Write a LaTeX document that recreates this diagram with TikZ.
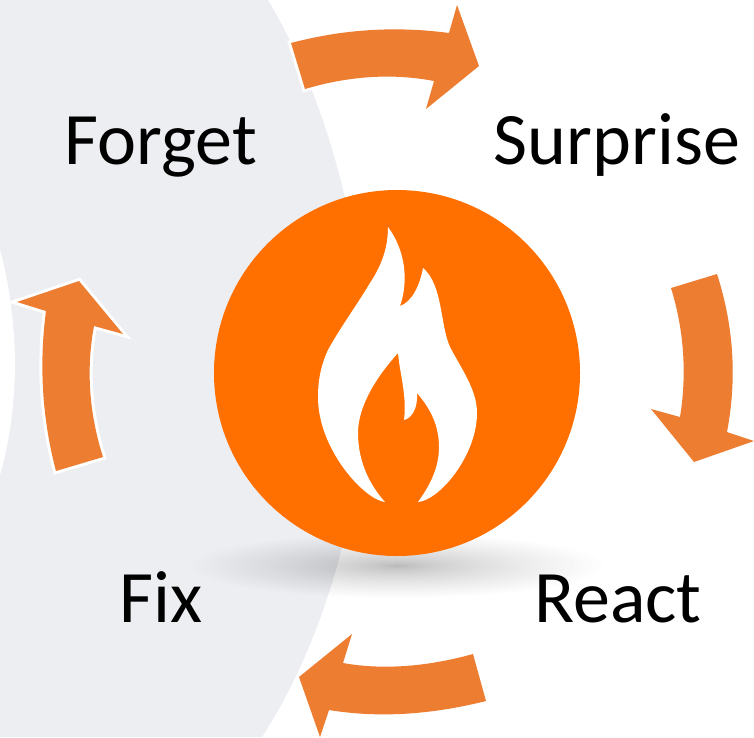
\documentclass[tikz,border=0pt]{standalone}
\usepackage{fontspec}
\setmainfont{Carlito}
\definecolor{bggray}{HTML}{EDEEF2}
\definecolor{arrowor}{HTML}{ED7D31}
\definecolor{discor}{HTML}{FF7000}
\tikzset{
  cyclearrow/.style={fill=arrowor},
  haloarrow/.style={fill=arrowor,preaction={draw=white,line width=6pt,line join=miter,miter limit=10}},
  steplabel/.style={font=\fontsize{74}{82}\selectfont,text=black,inner sep=0pt,anchor=base},
}
\begin{document}
\begin{tikzpicture}[x=1pt,y=-1pt]
\useasboundingbox (0,0) rectangle (754,737);
\fill[white] (0,0) rectangle (754,737);
% gray sweep
\fill[bggray] (0,0) -- (268,0) .. controls (325,95) and (365,235) .. (365,368)
  .. controls (365,500) and (325,640) .. (262,737) -- (0,737) -- cycle;
% white crescent
\fill[white] (0,250) .. controls (10,285) and (15,330) .. (15,365)
  .. controls (15,400) and (10,440) .. (0,475) -- cycle;
% shadow: stacked faint ellipses
\foreach \i in {1,...,36}{
  \pgfmathsetmacro{\t}{pow(\i/36,1.6)}
  \fill[black,opacity=0.0085] (397,566) ellipse [x radius={205*\t},y radius={32*\t}];
}
% disc
\node[circle,fill=discor,minimum size=366pt,inner sep=0pt] (disc) at (397,373) {};
% flame
\fill[white]
  (388,227) .. controls (388,250) and (380,268) .. (370,283)
  .. controls (355,308) and (340,328) .. (328,350)
  .. controls (321,365) and (318,380) .. (318,397)
  .. controls (318,450) and (365,500) .. (385,502)
  .. controls (367,482) and (358,458) .. (358,433)
  .. controls (358,405) and (378,375) .. (398,353)
  .. controls (400,375) and (407,395) .. (404,420)
  .. controls (412,418) and (418,408) .. (417,393)
  .. controls (430,408) and (439,425) .. (439,447)
  .. controls (439,470) and (428,488) .. (418,502)
  .. controls (440,500) and (477,455) .. (477,413)
  .. controls (477,390) and (462,370) .. (450,347)
  .. controls (440,325) and (443,285) .. (423,268)
  .. controls (420,285) and (412,302) .. (400,306)
  .. controls (409,280) and (405,250) .. (388,227) -- cycle;
% arrows
\path[haloarrow] (291,43) .. controls (344,29) and (396,26) .. (449,33)
  -- (457,5) -- (479,66) -- (426,109) -- (434,81)
  .. controls (392,73) and (349,76) .. (305,89) -- cycle;
\path[cyclearrow] (717,274) .. controls (734,327) and (737,379) .. (727,432)
  -- (754,441) -- (694,462) -- (651,409) -- (680,417)
  .. controls (687,374) and (684,330) .. (671,288) -- cycle;
\path[cyclearrow] (486,701) .. controls (430,715) and (378,718) .. (329,710)
  -- (320,737) -- (299,677) -- (352,634) -- (343,663)
  .. controls (382,670) and (426,667) .. (473,654) -- cycle;
\path[haloarrow] (56,471) .. controls (42,418) and (39,364) .. (46,311)
  -- (17,302) -- (79,281) -- (123,334) -- (94,326)
  .. controls (86,369) and (89,413) .. (103,457) -- cycle;
% labels
\node[steplabel] (forget) at (161,164) {Forget};
\node[steplabel] (surprise) at (617,164) {Surprise};
\node[steplabel] (react) at (618,622) {React};
\node[steplabel] (fix) at (161,622) {Fix};
\end{tikzpicture}
\end{document}
